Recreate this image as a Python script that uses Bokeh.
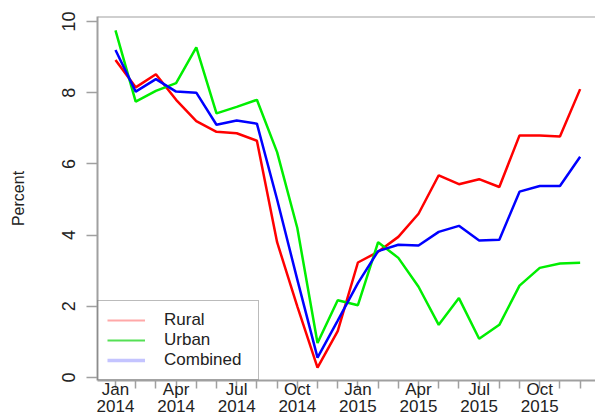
from bokeh.plotting import figure
from bokeh.models import (ColumnDataSource, FixedTicker, Range1d, Legend, LegendItem,
                          CDSView, IndexFilter, Span)
from bokeh.embed import file_html
from bokeh.resources import INLINE

# month index 0 = Jan 2014 ... 23 = Dec 2015
months = list(range(24))
rural = [8.92, 8.15, 8.52, 7.80, 7.20, 6.90, 6.86, 6.65, 3.80, 2.00, 0.28, 1.30,
         3.23, 3.53, 3.95, 4.60, 5.68, 5.43, 5.57, 5.35, 6.80, 6.80, 6.77, 8.10]
urban = [9.75, 7.75, 8.05, 8.27, 9.27, 7.42, 7.60, 7.80, 6.33, 4.20, 0.97, 2.17,
         2.03, 3.80, 3.36, 2.55, 1.48, 2.23, 1.09, 1.48, 2.58, 3.08, 3.20, 3.22]
combined = [9.20, 8.03, 8.38, 8.03, 8.00, 7.10, 7.22, 7.13, 5.00, 2.75, 0.56, 1.60,
            2.65, 3.55, 3.73, 3.71, 4.09, 4.26, 3.85, 3.87, 5.22, 5.38, 5.38, 6.20]
series_names = ["Rural", "Urban", "Combined"]
tick_months = [0, 3, 6, 9, 12, 15, 18, 21]
tick_labels = ["Jan\n2014", "Apr\n2014", "Jul\n2014", "Oct\n2014",
               "Jan\n2015", "Apr\n2015", "Jul\n2015", "Oct\n2015"]
y_ticks = [0, 2, 4, 6, 8, 10]
y_label = "Percent"

FONT = "Liberation Sans"
GREY = "#a0a0a0"
TXT = "#222222"

y_range = Range1d(-0.084, 10.14)
p = figure(width=595, height=418, output_backend="svg", toolbar_location=None,
           x_range=Range1d(-0.89, 23.76), y_range=y_range,
           min_border_left=97, min_border_top=16, min_border_right=0,
           min_border_bottom=0, background_fill_color="white",
           border_fill_color="white")
p.grid.visible = False
p.outline_line_color = None
p.add_layout(Span(location=y_range.end, dimension="width", line_color=GREY,
                  line_width=2))

src = ColumnDataSource(dict(m=months, rural=rural, urban=urban, combined=combined))
keys = ["rural", "urban", "combined"]
line_cols = ["#ff0000", "#00ee00", "#0000ff"]
for key, col in zip(keys, line_cols):
    p.line("m", key, source=src, line_color=col, line_width=2.5)

# legend swatches (pale, as in the reference); a single vertex draws nothing
leg_cols = ["#ffa8a8", "#55e055", "#c4c4ff"]
leg_w = [2, 2, 3.5]
items = []
for name, key, col, w in zip(series_names, keys, leg_cols, leg_w):
    r = p.line("m", key, source=src, view=CDSView(filter=IndexFilter([0])),
               line_color=col, line_width=w)
    items.append(LegendItem(label=name, renderers=[r]))
legend = Legend(items=items, location="bottom_left", margin=0, padding=9,
                spacing=0, glyph_width=38, glyph_height=14, label_standoff=19,
                label_height=14, label_width=85,
                label_text_font=FONT, label_text_font_size="17px",
                label_text_color=TXT, border_line_color="#777777",
                border_line_width=1.5, background_fill_alpha=0)
p.add_layout(legend, "center")

xa = p.xaxis[0]
xa.ticker = FixedTicker(ticks=tick_months, minor_ticks=months)
xa.major_label_overrides = {m: l for m, l in zip(tick_months, tick_labels)}
xa.major_tick_out = 0
xa.major_tick_in = 0
xa.minor_tick_out = 8
xa.minor_tick_in = 0
xa.minor_tick_line_color = GREY
xa.minor_tick_line_width = 1.5
xa.axis_line_color = GREY
xa.axis_line_width = 2
xa.major_label_standoff = -9
xa.major_label_text_font = FONT
xa.major_label_text_font_size = "17px"
xa.major_label_text_line_height = 0.9
xa.major_label_text_color = TXT

ya = p.yaxis[0]
ya.ticker = FixedTicker(ticks=y_ticks, minor_ticks=[])
ya.major_tick_out = 11
ya.major_tick_in = 0
ya.major_tick_line_color = GREY
ya.major_tick_line_width = 1.5
ya.axis_line_color = GREY
ya.axis_line_width = 2
ya.major_label_orientation = "parallel"
ya.major_label_standoff = 11
ya.major_label_text_font = FONT
ya.major_label_text_font_size = "18px"
ya.major_label_text_color = TXT
ya.axis_label = y_label
ya.axis_label_text_font = FONT
ya.axis_label_text_font_size = "16px"
ya.axis_label_text_font_style = "normal"
ya.axis_label_text_color = TXT
ya.axis_label_standoff = 33

open("out.html", "w").write(file_html(p, INLINE))
